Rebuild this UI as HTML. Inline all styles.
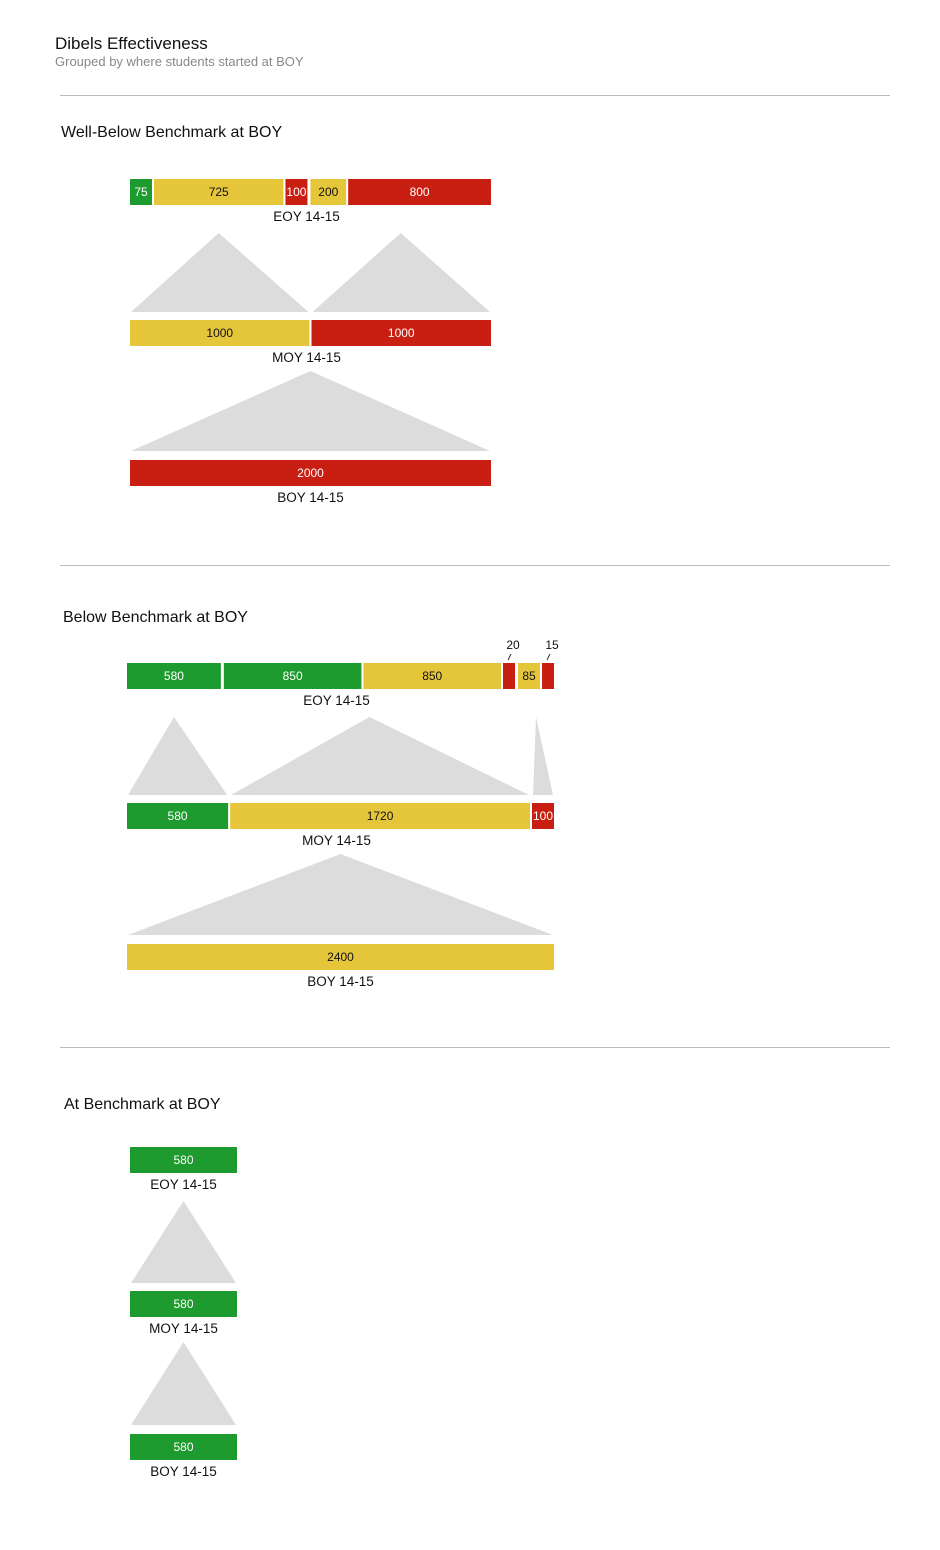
<!DOCTYPE html>
<html><head><meta charset="utf-8">
<style>
html,body{margin:0;padding:0;background:#fff;}
body{width:940px;height:1545px;overflow:hidden;font-family:"Liberation Sans",Arial,sans-serif;}
svg text{font-family:"Liberation Sans",Arial,sans-serif;}
</style></head>
<body>
<svg id="chart" width="940" height="1545" viewBox="0 0 940 1545" xmlns="http://www.w3.org/2000/svg">
  <text x="55" y="49" font-size="17" fill="#111">Dibels Effectiveness</text>
  <text x="55" y="66" font-size="13" fill="#888">Grouped by where students started at BOY</text>
  <g id="sections"></g>
</svg>
<script>
// ---- data ----
const sectionTitles = ["Well-Below Benchmark at BOY", "Below Benchmark at BOY", "At Benchmark at BOY"];
const periodLabels = ["EOY 14-15", "MOY 14-15", "BOY 14-15"];

const s1BoyValues = [2000];
const s1BoyColors = ["red"];
const s1MoyValues = [1000, 1000];
const s1MoyColors = ["yellow", "red"];
const s1MoyParent = [0, 0];
const s1EoyValues = [75, 725, 100, 200, 800];
const s1EoyColors = ["green", "yellow", "red", "yellow", "red"];
const s1EoyParent = [0, 0, 0, 1, 1];

const s2BoyValues = [2400];
const s2BoyColors = ["yellow"];
const s2MoyValues = [580, 1720, 100];
const s2MoyColors = ["green", "yellow", "red"];
const s2MoyParent = [0, 0, 0];
const s2EoyValues = [580, 850, 850, 20, 85, 15];
const s2EoyColors = ["green", "green", "yellow", "red", "yellow", "red"];
const s2EoyParent = [0, 1, 1, 1, 2, 2];

const s3BoyValues = [580];
const s3BoyColors = ["green"];
const s3MoyValues = [580];
const s3MoyColors = ["green"];
const s3MoyParent = [0];
const s3EoyValues = [580];
const s3EoyColors = ["green"];
const s3EoyParent = [0];

// ---- layout (not data) ----
const COLORS = {green:"#1e9b2e", yellow:"#e5c63a", red:"#c91f12"};
const TEXTC = {green:"#fff", yellow:"#111", red:"#fff"};
const layouts = [
  {line:95, title:137, x:130, w:361, eoy:179, moy:320, boy:460},
  {line:565, title:622, x:127, w:427, eoy:663, moy:803, boy:944},
  {line:1047, title:1109, x:130, w:107, eoy:1147, moy:1291, boy:1434}
];
const sections = [
  {boy:s1BoyValues, boyC:s1BoyColors, moy:s1MoyValues, moyC:s1MoyColors, moyP:s1MoyParent, eoy:s1EoyValues, eoyC:s1EoyColors, eoyP:s1EoyParent},
  {boy:s2BoyValues, boyC:s2BoyColors, moy:s2MoyValues, moyC:s2MoyColors, moyP:s2MoyParent, eoy:s2EoyValues, eoyC:s2EoyColors, eoyP:s2EoyParent},
  {boy:s3BoyValues, boyC:s3BoyColors, moy:s3MoyValues, moyC:s3MoyColors, moyP:s3MoyParent, eoy:s3EoyValues, eoyC:s3EoyColors, eoyP:s3EoyParent}
];
const BAR_H = 26;
const NS = "http://www.w3.org/2000/svg";

function mk(tag, attrs, parent){
  const e = document.createElementNS(NS, tag);
  for (const k in attrs) e.setAttribute(k, attrs[k]);
  parent.appendChild(e);
  return e;
}
function minW(v){ return v >= 50 ? 22 : 12; }

function scaleSegments(values, parents, x0, total){
  const n = values.length;
  let gaps = 0;
  for (let i=1;i<n;i++) gaps += (parents[i]!==parents[i-1]) ? 3 : 2;
  const avail = total - gaps;
  const sum = values.reduce((a,b)=>a+b,0);
  let widths = values.map(v => v/sum*avail);
  const fixed = values.map(()=>false);
  for (let it=0; it<6; it++){
    widths.forEach((w,i)=>{ if (w < minW(values[i])) fixed[i] = true; });
    const fixedSum = values.reduce((a,v,i)=>a+(fixed[i]?minW(v):0),0);
    const freeVal = values.reduce((a,v,i)=>a+(fixed[i]?0:v),0);
    widths = values.map((v,i)=> fixed[i] ? minW(v) : v/freeVal*(avail-fixedSum));
  }
  const segs = [];
  let x = x0;
  for (let i=0;i<n;i++){
    if (i>0) x += (parents[i]!==parents[i-1]) ? 3 : 2;
    segs.push({x:x, w:widths[i]});
    x += widths[i];
  }
  return segs;
}

const root = document.getElementById("sections");
sections.forEach((s, si) => {
  const L = layouts[si];
  const g = mk("g", {}, root);
  
  

  const ln = mk("line", {x1:60, x2:890, y1:L.line+0.5, y2:L.line+0.5, stroke:"#bbb", "stroke-width":1}, g);
  
  

  const t = mk("text", {x: si===0?61:(si===1?63:64), y:L.title, "font-size":16, fill:"#111"}, g);
  t.textContent = sectionTitles[si];
  
  

  const boyP = s.boy.map(()=>0);
  const boySeg = scaleSegments(s.boy, boyP, L.x, L.w);
  const moySeg = scaleSegments(s.moy, s.moyP, L.x, L.w);
  const eoySeg = scaleSegments(s.eoy, s.eoyP, L.x, L.w);

  function triangles(parentSegs, childSegs, childParents, topY, botY, name){
    parentSegs.forEach((ps, pi) => {
      const kids = childSegs.filter((c, ci) => childParents[ci]===pi);
      if (!kids.length) return;
      const gx0 = kids[0].x, gx1 = kids[kids.length-1].x + kids[kids.length-1].w;
      const apex = (gx0+gx1)/2;
      const p = mk("polygon", {points:`${apex},${topY} ${ps.x+1},${botY} ${ps.x+ps.w-1},${botY}`, fill:"#dcdcdc"}, g);
      
      
    });
  }
  triangles(moySeg, eoySeg, s.eoyP, L.eoy+54, L.moy-8, 'flow-moy-to-eoy');
  triangles(boySeg, moySeg, s.moyP, L.moy+51, L.boy-9, 'flow-boy-to-moy');

  function bar(segs, values, colors, y, label, name){
    segs.forEach((sg, i) => {
      const r = mk("rect", {x:sg.x, y:y, width:sg.w, height:BAR_H, fill:COLORS[colors[i]]}, g);
      
      
      const txt = String(values[i]);
      if (sg.w >= 13){
        const tt = mk("text", {x:sg.x+sg.w/2, y:y+17, "font-size":12, fill:TEXTC[colors[i]], "text-anchor":"middle"}, g);
        tt.textContent = txt;
        
        
      } else {
        const cx = sg.x+sg.w/2;
        const tt = mk("text", {x:cx+4, y:y-14, "font-size":12, fill:"#111", "text-anchor":"middle"}, g);
        tt.textContent = txt;
        
        
        const tk = mk("line", {x1:cx-1, y1:y-3, x2:cx+2, y2:y-9, stroke:"#333", "stroke-width":1}, g);
        
        
      }
    });
    const x0 = segs[0].x, x1 = segs[segs.length-1].x+segs[segs.length-1].w;
    const lb = mk("text", {x:(x0+x1)/2 - (segs.length>1?4:0), y:y+BAR_H+16, "font-size":13.5, fill:"#111", "text-anchor":"middle"}, g);
    lb.textContent = label;
    
    
  }
  bar(eoySeg, s.eoy, s.eoyC, L.eoy, periodLabels[0], 'eoy-bar');
  bar(moySeg, s.moy, s.moyC, L.moy, periodLabels[1], 'moy-bar');
  bar(boySeg, s.boy, s.boyC, L.boy, periodLabels[2], 'boy-bar');
});
</script>
</body></html>
